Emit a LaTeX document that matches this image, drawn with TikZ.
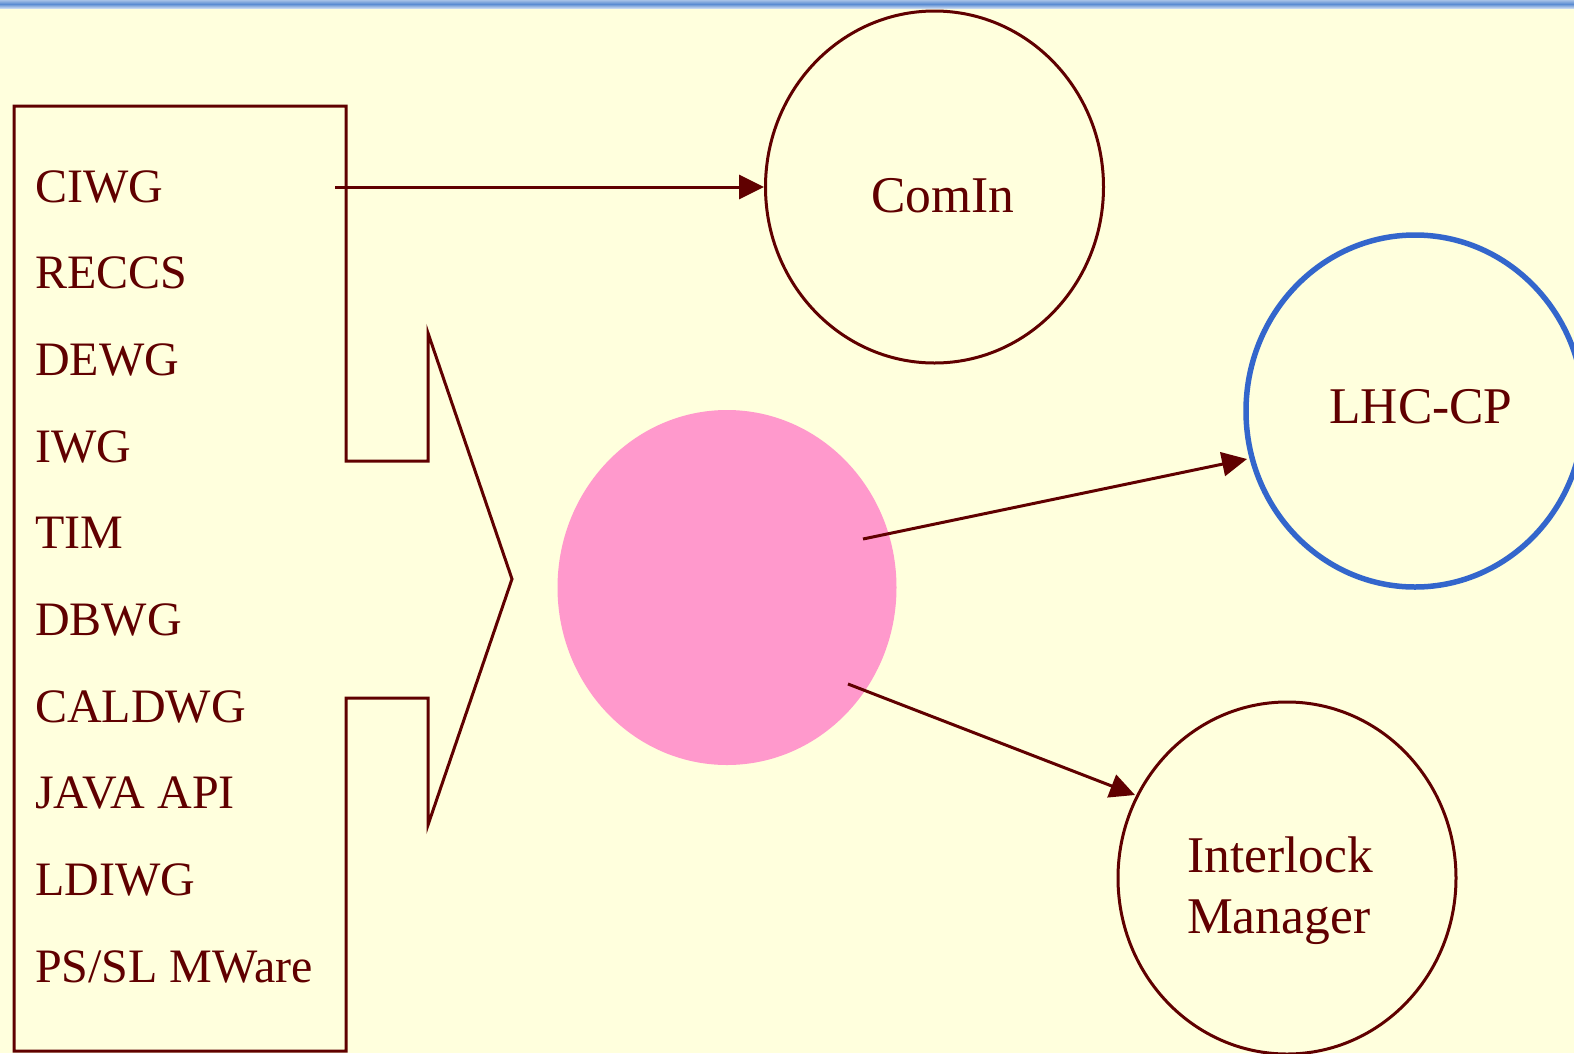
\documentclass[tikz,border=0pt]{standalone}
\usepackage{fontspec}
\setmainfont{Liberation Serif}
\usetikzlibrary{shapes.geometric,arrows.meta,calc}
\definecolor{paper}{RGB}{255,255,221}
\definecolor{ink}{RGB}{96,0,0}
\definecolor{ringblue}{RGB}{51,102,204}
\definecolor{barblue}{RGB}{90,140,210}
\definecolor{blossom}{RGB}{255,153,204}
\tikzset{
  outline/.style={draw=ink, line width=3pt},
  bubble/.style={ellipse, inner sep=0pt, minimum width=338pt, minimum height=352pt},
  listtext/.style={anchor=base west, inner sep=0pt, text=ink, font=\fontsize{48}{58}\selectfont},
  bubbletext/.style={inner sep=0pt, text=ink, font=\fontsize{51.5}{61}\selectfont},
  link/.style={draw=ink, line width=3pt, -{Triangle[length=25pt,width=24pt]}}
}
\begin{document}
\begin{tikzpicture}[x=1pt,y=-1pt]
  % page and header bar
  \fill[paper] (0,0) rectangle (1574,1053);
  \useasboundingbox (0,0) rectangle (1574,1053);
  \shade[top color=barblue!55, bottom color=barblue] (0,0) rectangle (1574,4);
  \shade[top color=barblue, bottom color=barblue!35] (0,4) rectangle (1574,8);

  % list panel merged with the chevron
  \draw[outline, line join=miter]
    (14,106) -- (346,106) -- (346,461) -- (428,461) -- (428,333)
    -- (512,579) -- (428,825) -- (428,698) -- (346,698) -- (346,1051)
    -- (14,1051) -- cycle;

  \foreach \name [count=\i from 0] in {CIWG, RECCS, DEWG, IWG, TIM, DBWG,
      CALDWG, JAVA API, LDIWG, PS/SL MWare}
    \node[listtext] (item\i) at (35,{202+\i*86.67}) {\name};

  % circles
  \node[bubble, outline] (comin) at (934.5,187) {};
  \node[bubble, fill=blossom] (hub) at (727,587.5) [minimum width=339pt, minimum height=355pt] {};
  \node[bubble, draw=ringblue, line width=5.5pt] (lhccp) at (1415,411) {};
  \node[bubble, outline] (ilm) at (1287,878) {};

  \node[bubbletext, anchor=base] (cominlbl) at (943,212) {ComIn};
  \node[bubbletext, anchor=base] (lhccplbl) at (1421,423) {LHC-CP};
  \node[bubbletext, anchor=base west] (ilmlbl1) at (1187,872) {Interlock};
  \node[bubbletext, anchor=base west] (ilmlbl2) at (1187,933) {Manager};

  % connectors
  \coordinate (ciwgout) at (335,187);
  \coordinate (hubne) at ($(hub)+(136,-48.5)$);
  \coordinate (hubse) at ($(hub)+(121,96.5)$);
  \draw[link] (ciwgout) -- (comin.west);
  \draw[link] (hubne) -- (1247,459);
  \draw[link] (hubse) -- (1135,795);
\end{tikzpicture}
\end{document}
